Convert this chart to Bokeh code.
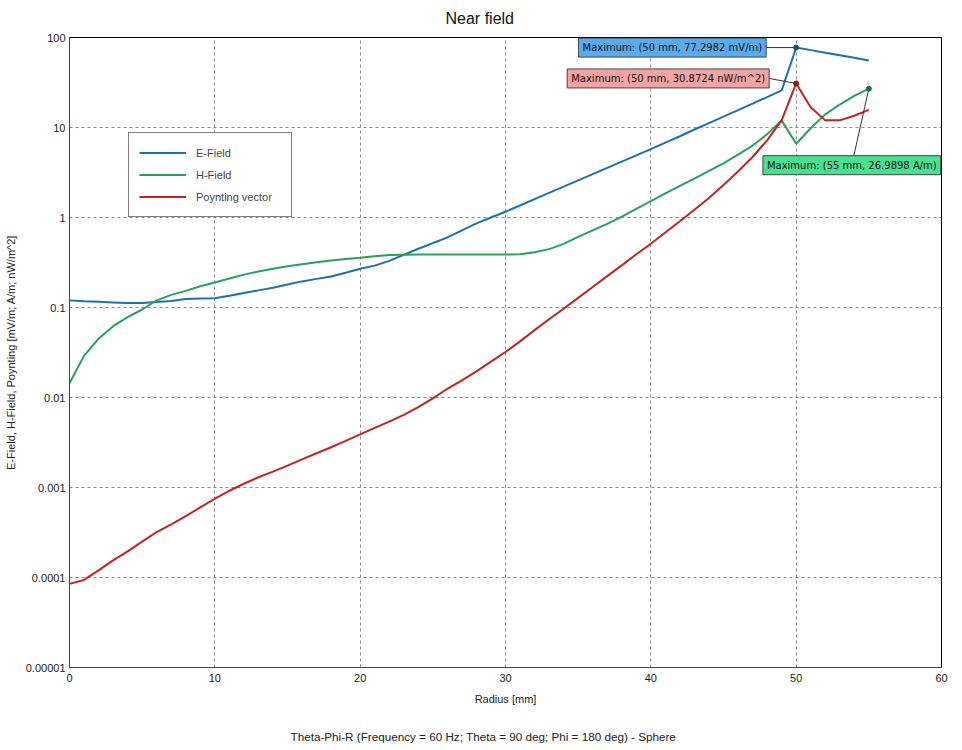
from bokeh.plotting import figure
from bokeh.models import (ColumnDataSource, Label, Legend, LegendItem, FixedTicker,
                          Title)
from bokeh.embed import file_html
from bokeh.resources import INLINE

# ---------------- data ----------------
radius = list(range(0, 56))

e_field = [0.120, 0.117, 0.116, 0.114, 0.112, 0.112, 0.115, 0.118, 0.124, 0.126,
           0.127, 0.135, 0.145, 0.155, 0.166, 0.180, 0.195, 0.208, 0.221, 0.243,
           0.269, 0.292, 0.330, 0.385, 0.45, 0.52, 0.60, 0.72, 0.86, 1.00,
           1.16, 1.36, 1.60, 1.88, 2.20, 2.58, 3.03, 3.56, 4.18, 4.90,
           5.76, 6.8, 8.0, 9.5, 11.2, 13.2, 15.6, 18.4, 21.8, 25.8,
           77.2982, 72.4, 67.8, 63.5, 59.4, 55.6]

h_field = [0.0144, 0.029, 0.045, 0.062, 0.078, 0.095, 0.120, 0.138, 0.153, 0.172,
           0.190, 0.210, 0.232, 0.251, 0.270, 0.288, 0.303, 0.318, 0.332, 0.345,
           0.357, 0.370, 0.382, 0.386, 0.388, 0.388, 0.388, 0.388, 0.388, 0.388,
           0.388, 0.390, 0.41, 0.445, 0.51, 0.61, 0.72, 0.85, 1.02, 1.25,
           1.52, 1.85, 2.25, 2.70, 3.30, 4.00, 5.00, 6.3, 8.4, 12.0,
           6.6, 9.8, 14.0, 18.0, 22.5, 26.9898]

poynting = [8.5e-5, 9.4e-5, 1.2e-4, 1.55e-4, 1.95e-4, 2.5e-4, 3.2e-4, 3.9e-4, 4.8e-4, 6.0e-4,
            7.5e-4, 9.2e-4, 1.1e-3, 1.3e-3, 1.5e-3, 1.75e-3, 2.05e-3, 2.4e-3, 2.8e-3, 3.3e-3,
            3.9e-3, 4.6e-3, 5.4e-3, 6.4e-3, 7.8e-3, 0.0098, 0.0125, 0.0155, 0.0195, 0.025,
            0.032, 0.042, 0.056, 0.074, 0.097, 0.128, 0.169, 0.223, 0.294, 0.39,
            0.51, 0.68, 0.91, 1.22, 1.65, 2.3, 3.25, 4.7, 7.2, 12.0,
            30.8724, 16.8, 12.0, 12.0, 13.5, 15.7]

x_ticks = [0, 10, 20, 30, 40, 50, 60]
y_ticks = [1e-5, 1e-4, 1e-3, 1e-2, 1e-1, 1, 10, 100]
y_tick_labels = ["0.00001", "0.0001", "0.001", "0.01", "0.1", "1", "10", "100"]

title_text = "Near field"
series_names = ["E-Field", "H-Field", "Poynting vector"]
series_colors = ["#1f6fa8", "#2a9f5e", "#c42323"]
marker_colors = ["#174f78", "#1d6e40", "#8a1515"]
max_text = ["Maximum: (50 mm, 77.2982 mV/m)",
            "Maximum: (50 mm, 30.8724 nW/m^2)",
            "Maximum: (55 mm, 26.9898 A/m)"]
box_fill = ["#58acee", "#f4a3a3", "#46e291"]

# ---------------- figure ----------------
FW, FH = 872, 630
p = figure(frame_width=FW, frame_height=FH,
           x_range=(0, 60), y_range=(1e-5, 100), y_axis_type="log",
           output_backend="svg", toolbar_location=None,
           min_border_left=69, min_border_right=13, min_border_top=37,
           min_border_bottom=75, background_fill_color="white",
           border_fill_color="white")

p.title.text = title_text
p.title.align = "left"
p.title.offset = 376
p.title.text_font = "Liberation Sans"
p.title.text_font_size = "16px"
p.title.text_font_style = "normal"
p.title.text_color = "#111111"
p.title.standoff = 18
p.title.vertical_align = "top"

p.outline_line_color = "black"
p.outline_line_width = 1

for ax in (p.xaxis[0], p.yaxis[0]):
    ax.axis_line_color = "#444444"
    ax.major_tick_line_color = None
    ax.minor_tick_line_color = None
    ax.major_tick_out = 0
    ax.major_tick_in = 0
    ax.minor_tick_out = 0
    ax.major_label_text_font = "Liberation Sans"
    ax.major_label_text_font_size = "11px"
    ax.major_label_text_color = "#222222"
    ax.axis_label_text_font = "Liberation Sans"
    ax.axis_label_text_font_size = "11px"
    ax.axis_label_text_font_style = "normal"
    ax.axis_label_text_color = "#222222"

p.xaxis.major_label_standoff = 6
p.yaxis.major_label_standoff = 4
p.xaxis.ticker = FixedTicker(ticks=x_ticks)
p.yaxis.ticker = FixedTicker(ticks=y_ticks)
p.yaxis.major_label_overrides = {t: l for t, l in zip(y_ticks, y_tick_labels)}
p.xaxis.axis_label = "Radius [mm]"
p.yaxis.axis_label = "E-Field, H-Field, Poynting [mV/m; A/m; nW/m^2]"
p.xaxis.axis_label_standoff = 8
p.yaxis.axis_label_standoff = 6

for g in (p.xgrid[0], p.ygrid[0]):
    g.grid_line_color = "#8a8a8a"
    g.grid_line_dash = "3 3"
    g.grid_line_width = 1
    g.minor_grid_line_color = None

src = ColumnDataSource(dict(r=radius, e=e_field, h=h_field, s=poynting))
renderers = []
for col, color in zip(["e", "h", "s"], series_colors):
    renderers.append(p.line("r", col, source=src, line_color=color, line_width=2))

legend = Legend(items=[LegendItem(label=n, renderers=[r])
                       for n, r in zip(series_names, renderers)],
                location=(59, 450), border_line_color="black", border_line_width=1,
                background_fill_color="white", background_fill_alpha=1,
                label_text_font="Liberation Sans", label_text_font_size="11px",
                glyph_width=47, glyph_height=19, label_height=19, label_width=85,
                spacing=3, padding=10, margin=0, label_standoff=10)
p.add_layout(legend, "center")

# ---------------- maxima annotations ----------------
sx = FW / 60.0          # px per mm
sy = FH / 7.0           # px per decade
series_vals = [e_field, poynting, h_field]
order = [0, 2, 1]
ann = [(-30, 0, "center_right", (-30, 0)),
       (-27, 5, "center_right", (-27, 5)),
       (-17, -67, "top_center", (-15, -67))]
for k, (vals, ci) in enumerate(zip(series_vals, order)):
    i = max(range(len(vals)), key=lambda j: vals[j])
    xm, ym = radius[i], vals[i]
    dx, dy, anchor, (cx, cy) = ann[k]
    xe = xm + cx / sx
    ye = ym * 10 ** (cy / sy)
    p.segment(x0=[xm], y0=[ym], x1=[xe], y1=[ye], line_color="#333333", line_width=1)
    p.scatter([xm], [ym], size=5, color=marker_colors[ci])
    lab_idx = {0: 0, 2: 1, 1: 2}[ci]
    p.add_layout(Label(x=xm, y=ym, x_offset=dx, y_offset=dy, anchor=anchor,
                       text=max_text[lab_idx], text_font="DejaVu Sans",
                       text_font_size="10px", text_color="#111111",
                       background_fill_color=box_fill[lab_idx],
                       background_fill_alpha=1, border_line_color="#444444",
                       border_line_width=1, padding=4))

caption = Title(text="Theta-Phi-R (Frequency = 60 Hz; Theta = 90 deg; Phi = 180 deg) - Sphere",
                align="left", offset=221, text_font="Liberation Sans",
                text_font_size="11.7px", text_font_style="normal", text_color="#222222",
                standoff=40)
p.add_layout(caption, "below")

open("out.html", "w").write(file_html(p, INLINE))
